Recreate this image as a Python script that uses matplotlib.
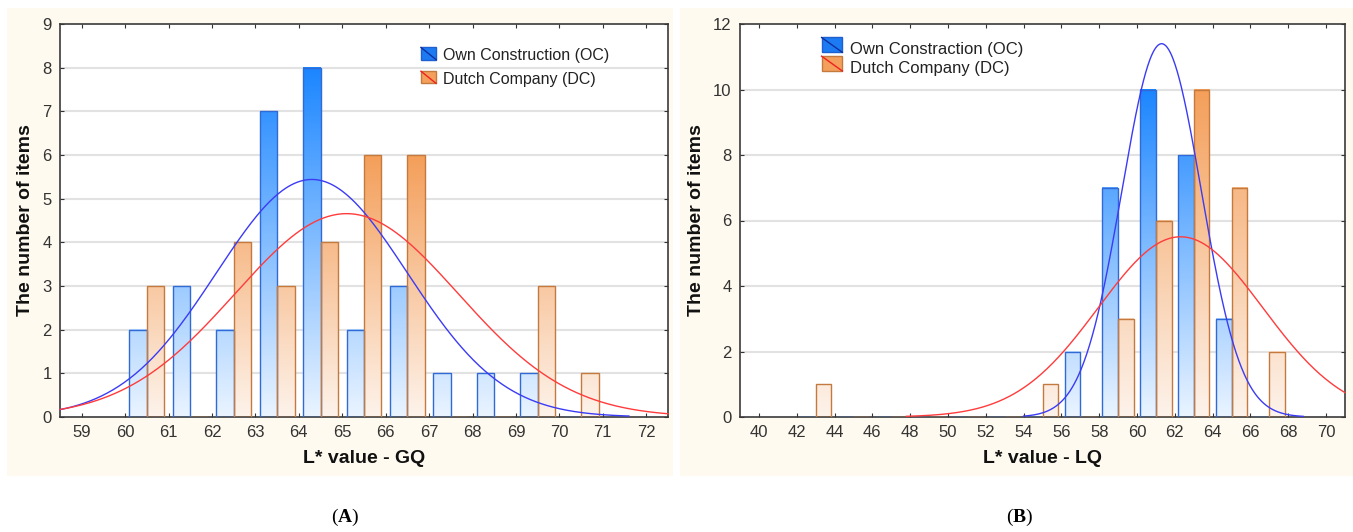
import numpy as np
import matplotlib.pyplot as plt
from matplotlib.colors import LinearSegmentedColormap
from matplotlib.patches import Rectangle
from matplotlib.lines import Line2D
from matplotlib.legend_handler import HandlerBase

# ---- panel A: L* value - GQ (bin width 1, bins centred on k+0.5)
gq_centers = [60.5, 61.5, 62.5, 63.5, 64.5, 65.5, 66.5, 67.5, 68.5, 69.5, 70.5]
gq_oc = [2, 3, 2, 7, 8, 2, 3, 1, 1, 1, 0]
gq_dc = [3, 0, 4, 3, 4, 6, 6, 0, 0, 3, 1]
gq_oc_fit = (64.3, 2.2)     # mean, sd of fitted normal
gq_dc_fit = (65.1, 2.57)

# ---- panel B: L* value - LQ (bin width 2, bins centred on odd values)
lq_centers = [43, 45, 47, 49, 51, 53, 55, 57, 59, 61, 63, 65, 67]
lq_oc = [0, 0, 0, 0, 0, 0, 0, 2, 7, 10, 8, 3, 0]
lq_dc = [1, 0, 0, 0, 0, 0, 1, 0, 3, 6, 10, 7, 2]
lq_oc_fit = (61.3, 2.1)
lq_dc_fit = (62.3, 4.35)

FONT = ["Liberation Sans", "DejaVu Sans"]
NARROW = ["Liberation Sans Narrow", "Liberation Sans", "DejaVu Sans"]

plt.rcParams["mathtext.fontset"] = "custom"
plt.rcParams["mathtext.rm"] = "Liberation Serif"
plt.rcParams["mathtext.bf"] = "Liberation Serif:bold"

blue_cmap = LinearSegmentedColormap.from_list("b", ["#EAF4FF", "#1C86FF"])
orange_cmap = LinearSegmentedColormap.from_list("o", ["#FDF3EB", "#F49F5A"])
BLUE_EDGE = "#2F6AD6"
ORANGE_EDGE = "#C47A3E"


class DiagHandler(HandlerBase):
    def __init__(self, face, edge, line):
        super().__init__()
        self.face, self.edge, self.line = face, edge, line

    def create_artists(self, legend, orig, xd, yd, w, h, fs, trans):
        r = Rectangle((xd, yd), w, h, facecolor=self.face, edgecolor=self.edge,
                      lw=1, transform=trans)
        l = Line2D([xd, xd + w], [yd + h, yd], color=self.line, lw=1, transform=trans)
        return [r, l]


def gradient_bars(ax, lefts, heights, width, cmap, edge):
    norm = max(heights)
    for x0, h in zip(lefts, heights):
        if h <= 0:
            continue
        grad = np.linspace(0, h / norm, 200).reshape(-1, 1)
        ax.imshow(grad, extent=[x0, x0 + width, 0, h], origin="lower", cmap=cmap,
                  vmin=0, vmax=1, aspect="auto", zorder=2, interpolation="bilinear")
    ax.bar(lefts, heights, width, align="edge", facecolor="none",
           edgecolor=edge, linewidth=1, zorder=3)


def normal_curve(ax, fit, n, bw, lo, hi, color):
    mu, sd = fit
    x = np.linspace(lo, hi, 400)
    y = n * bw / (sd * np.sqrt(2 * np.pi)) * np.exp(-0.5 * ((x - mu) / sd) ** 2)
    ax.plot(x, y, color=color, lw=1, zorder=4, clip_on=False)


def style_axes(ax, xticks, yticks, xlim, ylim, xlabel):
    ax.set_xlim(*xlim)
    ax.set_ylim(*ylim)
    ax.set_xticks(xticks)
    ax.set_yticks(yticks)
    ax.tick_params(direction="in", length=3, top=True, right=True,
                   labelsize=12, labelcolor="#333333", color="#333333", pad=6)
    for lab in ax.get_xticklabels() + ax.get_yticklabels():
        lab.set_family(NARROW)
    for g in yticks[1:-1]:
        ax.axhline(g, color="#E2E2E2", lw=1.5, zorder=1)
    for s in ax.spines.values():
        s.set_color("#3A3A3A")
        s.set_linewidth(1.2)
    ax.set_facecolor("white")
    ax.set_xlabel(xlabel, fontsize=14, fontweight="bold", family=FONT,
                  color="#111111", labelpad=7)
    ax.set_ylabel("The number of items", fontsize=14, fontweight="bold",
                  family=FONT, color="#111111", labelpad=6)


fig = plt.figure(figsize=(13.53, 5.32), dpi=100)
W, H = 1353, 532

# beige panel backgrounds
fig.patches.append(Rectangle((7 / W, 1 - 476 / H), 666 / W, 468 / H,
                             transform=fig.transFigure, facecolor="#FFFAEF",
                             edgecolor="none", zorder=-5))
fig.patches.append(Rectangle((680 / W, 1 - 476 / H), 673 / W, 468 / H,
                             transform=fig.transFigure, facecolor="#FFFAEF",
                             edgecolor="none", zorder=-5))

axA = fig.add_axes([60 / W, 1 - 417 / H, 608 / W, 393 / H])
axB = fig.add_axes([740 / W, 1 - 417 / H, 605 / W, 393 / H])

# panel A
bwA = 1.0
barw = 0.4 * bwA
gradient_bars(axA, [c - barw for c in gq_centers], gq_oc, barw, blue_cmap, BLUE_EDGE)
gradient_bars(axA, gq_centers, gq_dc, barw, orange_cmap, ORANGE_EDGE)
normal_curve(axA, gq_oc_fit, sum(gq_oc), bwA, 58.5, 71.6, "#3B3BF5")
normal_curve(axA, gq_dc_fit, sum(gq_dc), bwA, 58.5, 72.5, "#FF3B3B")
style_axes(axA, list(range(59, 73)), list(range(0, 10)), (58.5, 72.5), (0, 9),
           "L* value - GQ")

# panel B
bwB = 2.0
barw = 0.415 * bwB
gradient_bars(axB, [c - barw for c in lq_centers], lq_oc, barw, blue_cmap, BLUE_EDGE)
gradient_bars(axB, lq_centers, lq_dc, barw, orange_cmap, ORANGE_EDGE)
normal_curve(axB, lq_oc_fit, sum(lq_oc), bwB, 54.0, 68.8, "#3B3BF5")
normal_curve(axB, lq_dc_fit, sum(lq_dc), bwB, 47.8, 71.0, "#FF3B3B")
style_axes(axB, list(range(40, 71, 2)), list(range(0, 13, 2)), (39, 71), (0, 12),
           "L* value - LQ")

# legends
hA = [Rectangle((0, 0), 1, 1), Rectangle((0, 0), 1, 1)]
axA.legend(hA, ["Own Construction (OC)", "Dutch Company (DC)"],
           handler_map={hA[0]: DiagHandler("#1C7BF2", "#1F5FD0", "#1030A0"),
                        hA[1]: DiagHandler("#F4A05C", "#C47A3E", "#F02020")},
           loc="upper left", bbox_to_anchor=(0.57, 0.975), frameon=False,
           handlelength=0.95, handleheight=0.8, handletextpad=0.45, labelspacing=0.55,
           prop={"family": FONT, "size": 11.5}, labelcolor="#222222")

hB = [Rectangle((0, 0), 1, 1), Rectangle((0, 0), 1, 1)]
axB.legend(hB, ["Own Constraction (OC)", "Dutch Company (DC)"],
           handler_map={hB[0]: DiagHandler("#1C7BF2", "#1F5FD0", "#1030A0"),
                        hB[1]: DiagHandler("#F4A05C", "#C47A3E", "#F02020")},
           loc="upper left", bbox_to_anchor=(0.11, 0.995), frameon=False,
           handlelength=1.25, handleheight=1.0, handletextpad=0.45, labelspacing=0.15,
           prop={"family": FONT, "size": 12}, labelcolor="#222222")

# panel letters
fig.text(345 / W, 1 - 517 / H, r"($\mathbf{A}$)", ha="center", va="center",
         fontsize=14, family=["Liberation Serif", "DejaVu Serif"])
fig.text(1020 / W, 1 - 517 / H, r"($\mathbf{B}$)", ha="center", va="center",
         fontsize=14, family=["Liberation Serif", "DejaVu Serif"])

fig.savefig("out.png", dpi=100)
